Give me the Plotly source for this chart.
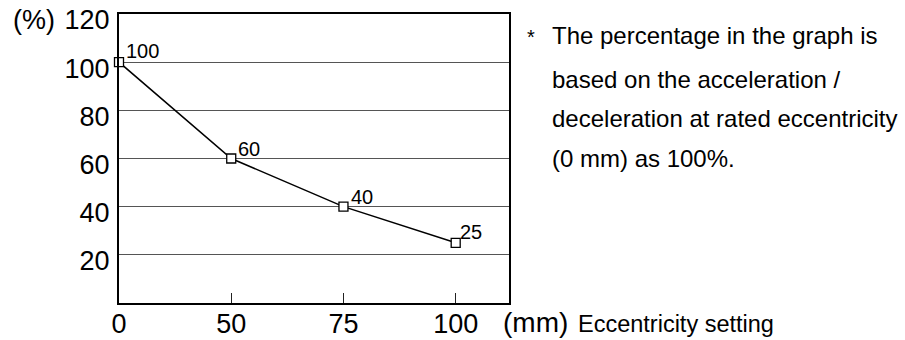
import plotly.graph_objects as go

# ---- data ----
eccentricity = ["0", "50", "75", "100"]          # x categories (mm)
accel_pct = [100, 60, 40, 25]                      # acceleration / deceleration (%)
y_ticks = [20, 40, 60, 80, 100, 120]
note_lines = [
    "The percentage in the graph is",
    "based on the acceleration /",
    "deceleration at rated eccentricity",
    "(0 mm) as 100%.",
]
x_unit = "(mm)"
x_title = "Eccentricity setting"
y_unit = "(%)"

# ---- layout geometry (pixels) ----
W, H = 905, 340
L, R, T, B = 119, 509, 14, 303
FONT = "Liberation Sans, Arial, sans-serif"


def px(xp):
    return (xp - L) / (R - L)


def py(yp):
    return (B - yp) / (B - T)


fig = go.Figure()
fig.add_trace(go.Scatter(
    x=eccentricity, y=accel_pct,
    mode="lines+markers",
    line=dict(color="black", width=1.5),
    marker=dict(symbol="square", size=9, color="white",
                line=dict(color="black", width=1.3)),
    cliponaxis=False,
    hoverinfo="skip",
))

# point labels (category index used as position)
label_shift = [(5, -2), (5, -3), (6, -3), (2, -2)]
for i, (yv, (dx, dy)) in enumerate(zip(accel_pct, label_shift)):
    fig.add_annotation(x=i, y=yv, xref="x", yref="y", text=str(yv),
                       showarrow=False, xanchor="left", yanchor="bottom",
                       xshift=dx, yshift=dy,
                       font=dict(family=FONT, size=20, color="black"))

# note text
baselines = [45, 89, 128, 168]
for line, bl in zip(note_lines, baselines):
    fig.add_annotation(x=px(550), y=py(bl + 6), xref="paper", yref="paper",
                       text=line, showarrow=False, xanchor="left", yanchor="bottom",
                       font=dict(family=FONT, size=24, color="black"))
fig.add_annotation(x=px(525), y=py(50), xref="paper", yref="paper",
                   text="*", showarrow=False, xanchor="left", yanchor="bottom",
                   font=dict(family=FONT, size=20, color="black"))

# axis unit labels
fig.add_annotation(x=px(11), y=py(37), xref="paper", yref="paper",
                   text=y_unit, showarrow=False, xanchor="left", yanchor="bottom",
                   font=dict(family=FONT, size=27, color="black"))
fig.add_annotation(x=px(501), y=py(340), xref="paper", yref="paper",
                   text=x_unit, showarrow=False, xanchor="left", yanchor="bottom",
                   font=dict(family=FONT, size=28, color="black"))
fig.add_annotation(x=px(576), y=py(339), xref="paper", yref="paper",
                   text=x_title, showarrow=False, xanchor="left", yanchor="bottom",
                   font=dict(family=FONT, size=23.5, color="black"))

fig.update_xaxes(
    type="category", range=[0, 3.475], automargin=False,
    showline=True, linecolor="black", linewidth=2, mirror=True,
    showgrid=False, zeroline=False,
    ticks="inside", ticklen=10, tickwidth=1, tickcolor="#222",
    ticklabelstandoff=-4,
    tickfont=dict(family=FONT, size=27, color="black"),
)
fig.update_yaxes(
    range=[0, 120], tickvals=y_ticks, automargin=False,
    showline=True, linecolor="black", linewidth=2, mirror=True,
    showgrid=True, gridcolor="#555", gridwidth=1, zeroline=False,
    ticks="", ticklabelstandoff=2, ticklabelshift=6,
    tickfont=dict(family=FONT, size=27, color="black"),
)
fig.update_layout(
    width=W, height=H,
    margin=dict(l=L, r=W - R, t=T, b=H - B),
    paper_bgcolor="white", plot_bgcolor="white",
    showlegend=False,
)
fig.write_html("out.html",
               config={"displayModeBar": False},
               post_script="document.body.style.margin='0';"
                           "document.body.style.overflow='hidden';")
